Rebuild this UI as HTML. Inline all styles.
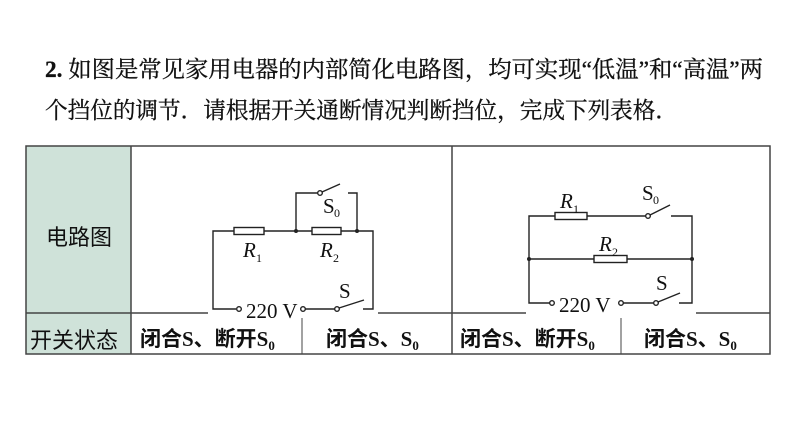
<!DOCTYPE html>
<html><head><meta charset="utf-8"><style>
html,body{margin:0;padding:0;background:#fff;}
svg{display:block;}
.t{font-family:"Liberation Serif","Noto Serif CJK SC",serif;font-size:23px;fill:#111;}
.h{font-family:"Liberation Sans","Noto Sans CJK SC",sans-serif;font-size:22px;fill:#111;}
.b{font-family:"Liberation Serif","Noto Sans CJK SC",serif;font-size:21px;font-weight:bold;fill:#111;}
.l{font-family:"Liberation Serif",serif;font-size:21px;fill:#111;}
.s{font-family:"Liberation Serif",serif;font-size:12px;fill:#111;}
</style></head><body>
<svg width="794" height="447" viewBox="0 0 794 447" xmlns="http://www.w3.org/2000/svg">
<text class="t" x="45" y="77" textLength="718" lengthAdjust="spacingAndGlyphs" stroke="#111" stroke-width="0.3"><tspan font-weight="bold">2.</tspan> 如图是常见家用电器的内部简化电路图，均可实现“低温”和“高温”两</text>
<text class="t" x="45" y="118" textLength="633" lengthAdjust="spacingAndGlyphs" stroke="#111" stroke-width="0.3">个挡位的调节．请根据开关通断情况判断挡位，完成下列表格．</text>

<!-- table -->
<rect x="26" y="146" width="105" height="208" fill="#cfe2d9"/>
<g stroke="#444" stroke-width="1.5" fill="none">
<rect x="26" y="146" width="744" height="208"/>
<line x1="131" y1="146" x2="131" y2="354"/>
<line x1="452" y1="146" x2="452" y2="354"/>
<line x1="26" y1="313" x2="770" y2="313"/>
<line x1="302" y1="318" x2="302" y2="354" stroke-width="1"/>
<line x1="621" y1="318" x2="621" y2="354" stroke-width="1"/>
</g>
<text class="h" x="46" y="245">电路图</text>
<text class="h" x="30" y="348">开关状态</text>
<text class="b" x="140" y="346">闭合S、断开S<tspan font-size="13" dy="4">0</tspan></text>
<text class="b" x="326" y="346">闭合S、S<tspan font-size="13" dy="4">0</tspan></text>
<text class="b" x="460" y="346">闭合S、断开S<tspan font-size="13" dy="4">0</tspan></text>
<text class="b" x="644" y="346">闭合S、S<tspan font-size="13" dy="4">0</tspan></text>

<!-- circuit 1 -->
<rect x="208" y="306" width="170" height="12" fill="#fff"/>
<g stroke="#222" stroke-width="1.4" fill="none">
<polyline points="236,309 213,309 213,231 234,231"/>
<rect x="234" y="227.5" width="30" height="7"/>
<line x1="264" y1="231" x2="312" y2="231"/>
<rect x="312" y="227.5" width="29" height="7"/>
<polyline points="341,231 373,231 373,309 363,309"/>
<polyline points="296,231 296,193 318,193"/>
<circle cx="320" cy="193" r="2.3" fill="#fff"/>
<line x1="322" y1="192" x2="340" y2="184"/>
<polyline points="348,193 357,193 357,231"/>
<circle cx="239" cy="309" r="2.3" fill="#fff"/>
<circle cx="303" cy="309" r="2.3" fill="#fff"/>
<line x1="305" y1="309" x2="335" y2="309"/>
<circle cx="337" cy="309" r="2.3" fill="#fff"/>
<line x1="339" y1="308" x2="364" y2="300"/>
</g>
<circle cx="296" cy="231" r="2" fill="#222"/><circle cx="357" cy="231" r="2" fill="#222"/>
<text class="l" x="243" y="257" font-style="italic">R</text><text class="s" x="256" y="262">1</text>
<text class="l" x="320" y="257" font-style="italic">R</text><text class="s" x="333" y="262">2</text>
<text class="l" x="323" y="213">S</text><text class="s" x="334" y="217">0</text>
<text class="l" x="339" y="298">S</text>
<text class="l" x="246" y="318">220 V</text>

<!-- circuit 2 -->
<rect x="526" y="300" width="170" height="16" fill="#fff"/>
<g stroke="#222" stroke-width="1.4" fill="none">
<polyline points="550,303 529,303 529,216 555,216"/>
<rect x="555" y="212.5" width="32" height="7"/>
<line x1="587" y1="216" x2="646" y2="216"/>
<line x1="650" y1="215" x2="670" y2="205"/>
<polyline points="671,216 692,216 692,303 679,303"/>
<line x1="529" y1="259" x2="594" y2="259"/>
<rect x="594" y="255.5" width="33" height="7"/>
<line x1="627" y1="259" x2="692" y2="259"/>
<circle cx="552" cy="303" r="2.3" fill="#fff"/>
<circle cx="621" cy="303" r="2.3" fill="#fff"/>
<line x1="623" y1="303" x2="654" y2="303"/>
<circle cx="656" cy="303" r="2.3" fill="#fff"/>
<circle cx="648" cy="216" r="2.3" fill="#fff"/>
<line x1="658" y1="302" x2="680" y2="293"/>
</g>
<circle cx="529" cy="259" r="2" fill="#222"/><circle cx="692" cy="259" r="2" fill="#222"/>
<text class="l" x="560" y="208" font-style="italic">R</text><text class="s" x="573" y="213">1</text>
<text class="l" x="599" y="251" font-style="italic">R</text><text class="s" x="612" y="256">2</text>
<text class="l" x="642" y="200">S</text><text class="s" x="653" y="204">0</text>
<text class="l" x="656" y="290">S</text>
<text class="l" x="559" y="312">220 V</text>
</svg>
</body></html>
